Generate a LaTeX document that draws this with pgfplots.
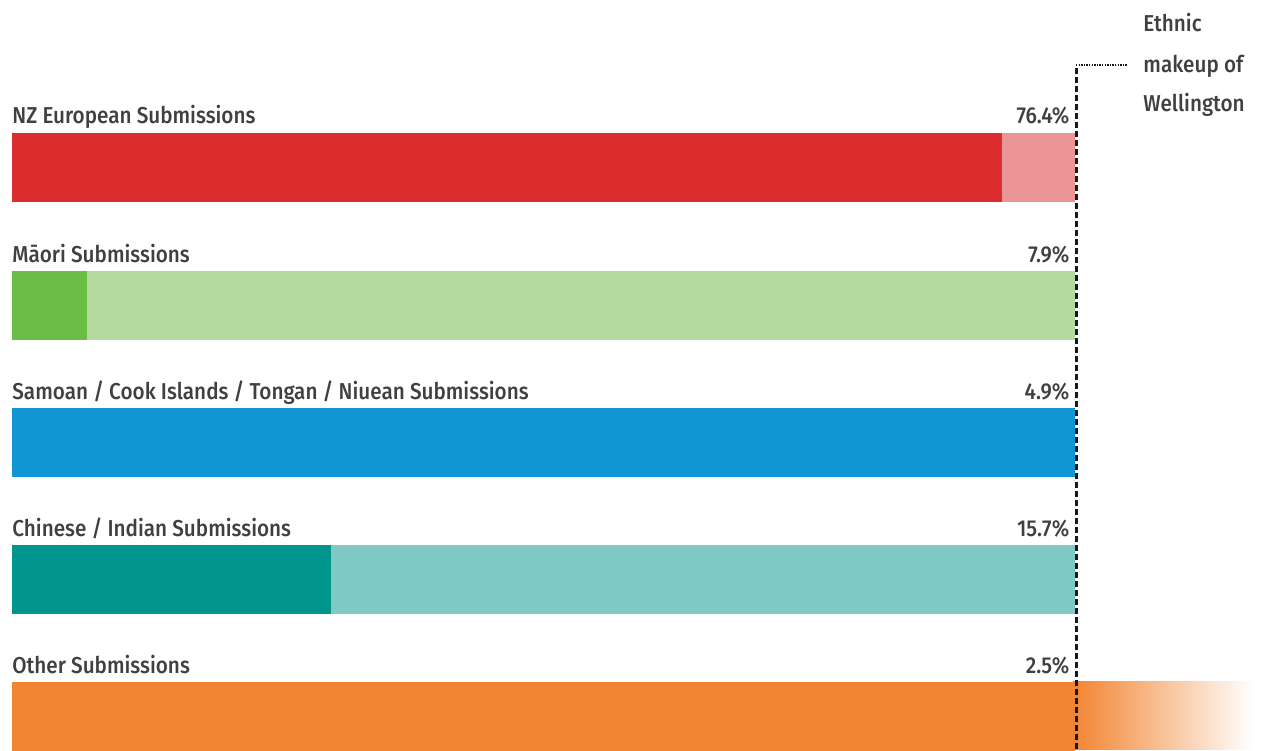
\documentclass[border=0pt]{standalone}
\usepackage{fontspec}
\setmainfont{Fira Sans Medium}[FakeStretch=0.9]
\usepackage{pgfplots}
\pgfplotsset{compat=1.18}
\definecolor{redD}{HTML}{DC2D2E}
\definecolor{redL}{HTML}{EC9596}
\definecolor{grnD}{HTML}{6ABD45}
\definecolor{grnL}{HTML}{B5DAA0}
\definecolor{bluD}{HTML}{1295D3}
\definecolor{tealD}{HTML}{00958D}
\definecolor{tealL}{HTML}{80C9C5}
\definecolor{orgD}{HTML}{F28432}
\definecolor{txt}{HTML}{404040}
\begin{document}
\begin{tikzpicture}[
  lab/.style={anchor=base west, inner sep=0pt, font=\fontsize{11.5}{13}\selectfont, text=txt},
  pct/.style={anchor=base east, inner sep=0pt, font=\fontsize{11.5}{13}\selectfont, text=txt},
]
\begin{axis}[
  width=630.5pt, height=374.5pt, scale only axis,
  hide axis, clip=false,
  xmin=-1.1289, xmax=117.497,
  ymin=0, ymax=749, y dir=reverse,
  bb/.style={xbar, bar shift=0pt, bar width=69, draw=none},
]
% keep the whole axis area in the picture
\path (rel axis cs:0,0) rectangle (rel axis cs:1,1);
% full bar = ethnic share of Wellington (100), dark part = submissions relative to it
\addplot[bb, fill=redL] coordinates {(100,167)};
\addplot[bb, fill=redD] coordinates {(93.1,167)};
\addplot[bb, fill=grnL] coordinates {(100,305.5)};
\addplot[bb, fill=grnD] coordinates {(7.05,305.5)};
\addplot[bb, fill=bluD] coordinates {(100,442)};
\addplot[bb, fill=tealL] coordinates {(100,579)};
\addplot[bb, fill=tealD] coordinates {(30.0,579)};
\addplot[bb, fill=orgD] coordinates {(100,716)};
% fade of the Other bar past the line
\addplot[draw=none, left color=orgD, right color=white]
  coordinates {(99.8,681.5) (116.8,681.5) (116.8,749) (99.8,749)};

% Wellington line
\addplot[black!90, line width=1.5pt, dash pattern=on 3pt off 1.5pt]
  coordinates {(100.1,749) (100.1,65)};
\addplot[black!90, line width=0.7pt, dash pattern=on 0.7pt off 0.6pt]
  coordinates {(100.1,65) (104.9,65)};

\node[lab] at (axis cs:0,123) {NZ European Submissions};
\node[lab] at (axis cs:0,262) {Māori Submissions};
\node[lab] at (axis cs:0,399) {Samoan / Cook Islands / Tongan / Niuean Submissions};
\node[lab] at (axis cs:0,536) {Chinese / Indian Submissions};
\node[lab] at (axis cs:0,673) {Other Submissions};

\node[pct] at (axis cs:99.5,123) {76.4\%};
\node[pct] at (axis cs:99.5,262) {7.9\%};
\node[pct] at (axis cs:99.5,399) {4.9\%};
\node[pct] at (axis cs:99.5,536) {15.7\%};
\node[pct] at (axis cs:99.5,673) {2.5\%};

\node[lab] at (axis cs:106.4,31) {Ethnic};
\node[lab] at (axis cs:106.4,72) {makeup of};
\node[lab] at (axis cs:106.4,111) {Wellington};
\end{axis}
\end{tikzpicture}
\end{document}
